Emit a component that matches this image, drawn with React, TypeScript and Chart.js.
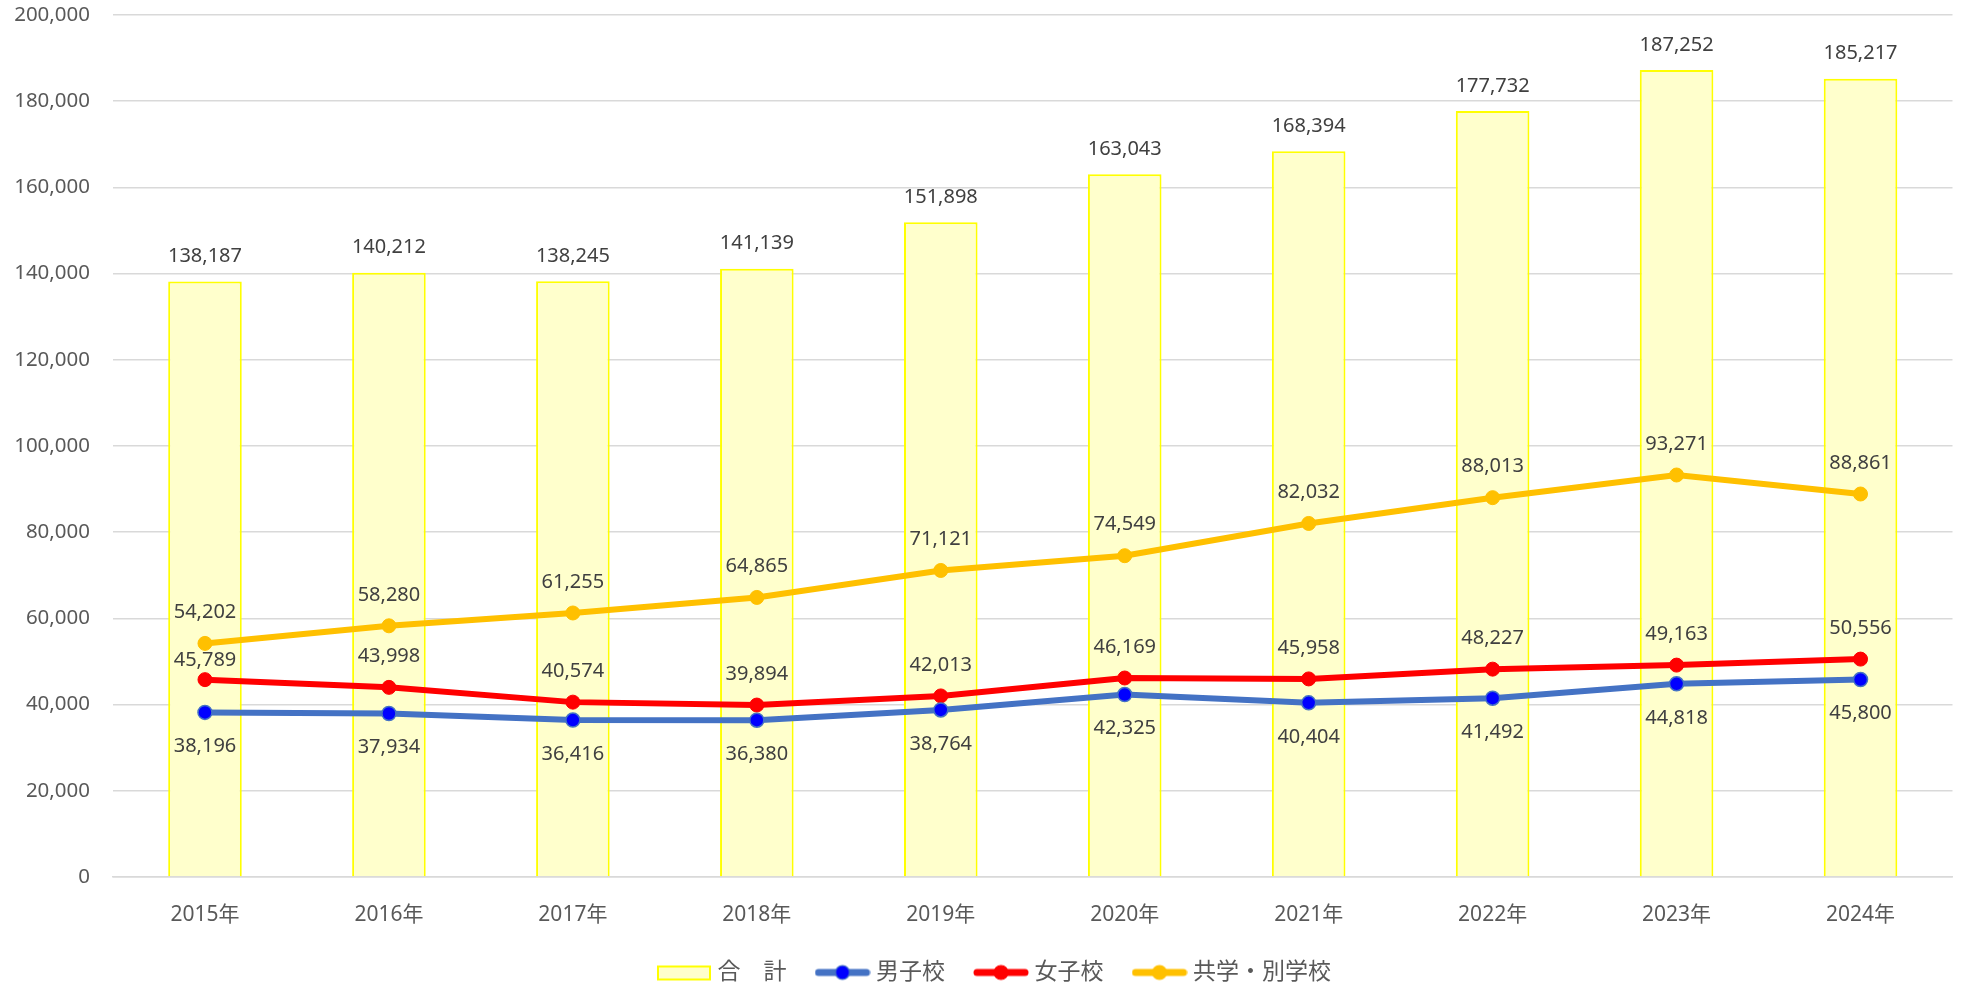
import React, { useEffect, useRef } from "react";
import { Chart, registerables } from "chart.js";

Chart.register(...registerables);

const categories = ["2015年", "2016年", "2017年", "2018年", "2019年", "2020年", "2021年", "2022年", "2023年", "2024年"];
const totalValues = [138187, 140212, 138245, 141139, 151898, 163043, 168394, 177732, 187252, 185217];
const boysValues = [38196, 37934, 36416, 36380, 38764, 42325, 40404, 41492, 44818, 45800];
const girlsValues = [45789, 43998, 40574, 39894, 42013, 46169, 45958, 48227, 49163, 50556];
const coedValues = [54202, 58280, 61255, 64865, 71121, 74549, 82032, 88013, 93271, 88861];
const seriesNames = ["合　計", "男子校", "女子校", "共学・別学校"];

const FONT = "'Noto Sans', 'Noto Sans CJK JP', sans-serif";
const BAR_FILL = "#FFFFCC";
const BAR_BORDER = "#FFFF00";
const BLUE_LINE = "#4472C4";
const BLUE_POINT = "#0000FF";
const RED = "#FF0000";
const ORANGE = "#FFC000";

function lineIcon(lineColor: string, dotColor: string, dotBorder: string) {
  const c = document.createElement("canvas");
  c.width = 56;
  c.height = 18;
  const ctx = c.getContext("2d")!;
  ctx.strokeStyle = lineColor;
  ctx.lineWidth = 7;
  ctx.lineCap = "round";
  ctx.beginPath();
  ctx.moveTo(4, 9);
  ctx.lineTo(52, 9);
  ctx.stroke();
  ctx.fillStyle = dotColor;
  ctx.beginPath();
  ctx.arc(28, 9, 7, 0, Math.PI * 2);
  ctx.fill();
  ctx.strokeStyle = dotBorder;
  ctx.lineWidth = 1.2;
  ctx.stroke();
  return c;
}

function boxIcon() {
  const c = document.createElement("canvas");
  c.width = 56;
  c.height = 18;
  const ctx = c.getContext("2d")!;
  ctx.fillStyle = BAR_FILL;
  ctx.fillRect(2, 3, 52, 13);
  ctx.strokeStyle = BAR_BORDER;
  ctx.lineWidth = 2;
  ctx.strokeRect(2, 3, 52, 13);
  return c;
}

const fmt = (v: number) => v.toLocaleString("en-US");

const labelPlugin = {
  id: "valueLabels",
  afterLayout(chart: any) {
    const lg = chart.legend;
    if (lg) {
      lg.left += 20;
      lg.right += 20;
      lg.top -= 10;
      lg.bottom -= 10;
    }
  },
  afterDatasetsDraw(chart: any) {
    const ctx = chart.ctx;
    ctx.save();
    ctx.font = `20px ${FONT}`;
    ctx.fillStyle = "#404040";
    ctx.textAlign = "center";
    ctx.textBaseline = "middle";
    const barMeta = chart.getDatasetMeta(0);
    const boysMeta = chart.getDatasetMeta(1);
    const girlsMeta = chart.getDatasetMeta(2);
    const coedMeta = chart.getDatasetMeta(3);
    categories.forEach((_, i) => {
      const b = barMeta.data[i];
      ctx.fillText(fmt(totalValues[i]), b.x, b.y - 25);
      const p1 = boysMeta.data[i];
      ctx.fillText(fmt(boysValues[i]), p1.x, p1.y + 34);
      const p3 = coedMeta.data[i];
      ctx.fillText(fmt(coedValues[i]), p3.x, p3.y - 31);
      const p2 = girlsMeta.data[i];
      let y2 = p2.y - 31;
      if (Math.abs(y2 - p3.y) < 18) y2 = p3.y + 17;
      ctx.fillText(fmt(girlsValues[i]), p2.x, y2);
    });
    ctx.restore();
  },
};

export default function App() {
  const ref = useRef<HTMLCanvasElement>(null);
  useEffect(() => {
    const icons = [
      boxIcon(),
      lineIcon(BLUE_LINE, BLUE_POINT, BLUE_LINE),
      lineIcon(RED, RED, RED),
      lineIcon(ORANGE, ORANGE, ORANGE),
    ];
    const chart = new Chart(ref.current!, {
      type: "bar",
      data: {
        labels: categories,
        datasets: [
          {
            type: "bar",
            label: seriesNames[0],
            data: totalValues,
            backgroundColor: BAR_FILL,
            borderColor: BAR_BORDER,
            borderWidth: 2,
            barPercentage: 0.4,
            categoryPercentage: 1,
            order: 1,
          },
          {
            type: "line",
            label: seriesNames[1],
            data: boysValues,
            borderColor: BLUE_LINE,
            borderWidth: 6,
            pointRadius: 7,
            pointBackgroundColor: BLUE_POINT,
            pointBorderColor: BLUE_LINE,
            pointBorderWidth: 1.5,
            tension: 0,
            order: 0,
          },
          {
            type: "line",
            label: seriesNames[2],
            data: girlsValues,
            borderColor: RED,
            borderWidth: 6,
            pointRadius: 7,
            pointBackgroundColor: RED,
            pointBorderColor: RED,
            pointBorderWidth: 1,
            tension: 0,
            order: 0,
          },
          {
            type: "line",
            label: seriesNames[3],
            data: coedValues,
            borderColor: ORANGE,
            borderWidth: 6,
            pointRadius: 7,
            pointBackgroundColor: ORANGE,
            pointBorderColor: ORANGE,
            pointBorderWidth: 1,
            tension: 0,
            order: 0,
          },
        ] as any,
      },
      options: {
        animation: false,
        responsive: false,
        maintainAspectRatio: false,
        layout: { padding: { top: 15, right: 8, left: 0, bottom: -17 } },
        plugins: {
          tooltip: { enabled: false },
          legend: {
            position: "bottom",
            labels: {
              usePointStyle: true,
              pointStyleWidth: 44,
              color: "#595959",
              font: { family: FONT, size: 23 },
              padding: 34,
              generateLabels: () =>
                seriesNames.map((name, i) => ({
                  text: name,
                  datasetIndex: i,
                  pointStyle: icons[i],
                  fillStyle: "transparent",
                  strokeStyle: "transparent",
                  lineWidth: 0,
                  hidden: false,
                  fontColor: "#595959",
                })),
            },
          },
        },
        scales: {
          x: {
            grid: { display: false, drawTicks: false },
            border: { display: true, color: "#D9D9D9", width: 1.5 },
            ticks: { color: "#595959", font: { family: FONT, size: 21 }, padding: 25 },
            afterFit: (s: any) => {
              s.height = 60;
            },
          },
          y: {
            min: 0,
            max: 200000,
            grid: { color: "#D9D9D9", lineWidth: 1.5, drawTicks: false },
            border: { display: false },
            ticks: {
              stepSize: 20000,
              color: "#595959",
              font: { family: FONT, size: 20.5 },
              padding: 23,
              callback: (v: any) => fmt(Number(v)),
            },
            afterFit: (s: any) => {
              s.width = 113;
              s.paddingTop = 12;
              s.paddingBottom = 12;
            },
          },
        },
      },
      plugins: [labelPlugin],
    });
    return () => chart.destroy();
  }, []);
  return (
    <div style={{ position: "fixed", left: 0, top: 0, width: 1961, height: 987, background: "#fff" }}>
      <canvas ref={ref} width={1961} height={987} style={{ width: 1961, height: 987 }} />
    </div>
  );
}
